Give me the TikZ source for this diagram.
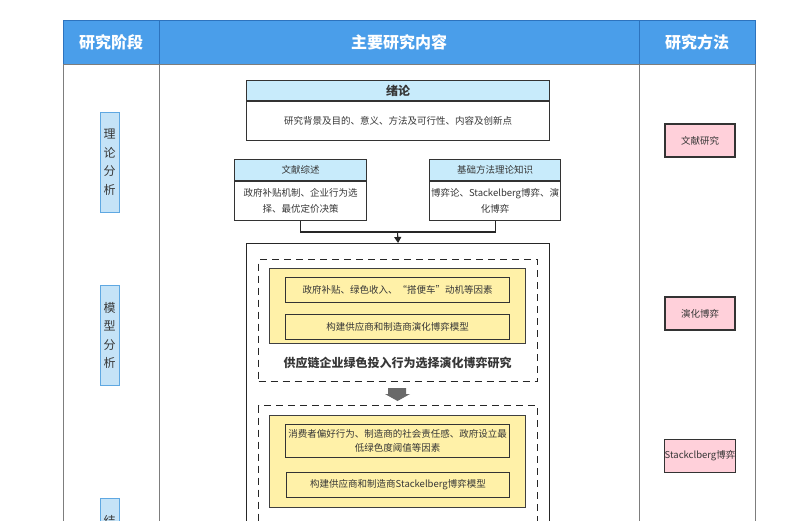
\documentclass[tikz,border=0pt]{standalone}
\usepackage{fontspec}
\setmainfont{Noto Sans CJK SC}
\usetikzlibrary{arrows.meta}
\definecolor{hdrblue}{RGB}{74,158,234}
\definecolor{hdrline}{RGB}{45,115,190}
\definecolor{stageblue}{RGB}{197,227,247}
\definecolor{stageedge}{RGB}{95,168,226}
\definecolor{titleblue}{RGB}{200,235,251}
\definecolor{paleyellow}{RGB}{255,241,168}
\definecolor{methodpink}{RGB}{255,208,218}
\definecolor{gridgray}{RGB}{125,125,125}
\definecolor{txtgray}{RGB}{55,55,55}
\definecolor{arrowgray}{RGB}{105,105,105}
\tikzset{
  hdrtext/.style={text=white, font=\fontsize{16}{18}\selectfont\bfseries},
  stagebox/.style={draw=stageedge, fill=stageblue, line width=1pt, minimum width=19pt, inner sep=0pt, align=center, text=txtgray, font=\fontsize{12}{18.5}\selectfont},
  titlebar/.style={draw=black!80, line width=1.1pt, fill=titleblue, anchor=north west, inner sep=0pt, text=txtgray},
  textbody/.style={draw=black!80, line width=1.1pt, fill=white, anchor=north, inner sep=0pt, align=center, text=txtgray, font=\fontsize{9.5}{16}\selectfont},
  dashbox/.style={draw=black!85, line width=1.3pt, dash pattern=on 7pt off 5pt, anchor=north west, inner sep=0pt},
  yellowbox/.style={draw=black!75, line width=1pt, fill=paleyellow, anchor=north west, inner sep=0pt},
  factorbox/.style={draw=black!80, line width=1pt, fill=paleyellow, anchor=north west, inner sep=0pt, align=center, text=txtgray, font=\fontsize{9.5}{14}\selectfont},
  methodbox/.style={draw=black!80, line width=1.1pt, fill=methodpink, minimum width=70pt, minimum height=33pt, inner sep=0pt, text=txtgray, font=\fontsize{9.5}{12}\selectfont}
}
\begin{document}
\begin{tikzpicture}[x=1pt, y=-1pt]
  \useasboundingbox (0,0) rectangle (800,520);
  \fill[white] (0,0) rectangle (800,520);
  \fill[hdrblue] (63,20) rectangle (755,64);
  \draw[gridgray] (63,64) -- (755,64);
  \foreach \x in {63,159,639,755} {
    \draw[hdrline] (\x,20) -- (\x,64);
    \draw[gridgray] (\x,64) -- (\x,530);
  }
  \draw[hdrline] (63,20) -- (755,20);
  \node[hdrtext] (stagehd) at (111,42) {研究阶段};
  \node[hdrtext] (contenthd) at (399,42) {主要研究内容};
  \node[hdrtext] (methodhd) at (697,42) {研究方法};

  \foreach \n/\y/\t in {theory/162/{理\\论\\分\\析}, model/335.5/{模\\型\\分\\析}, result/548.5/{结\\果\\分\\析}} {
    \node[stagebox, minimum height=100pt] (\n) at (109.5,\y) {\t};
  }

  \node[titlebar, minimum width=303pt, minimum height=20pt, font=\fontsize{12}{14}\selectfont\bfseries] (intro) at (246,80) {绪论};
  \node[textbody, minimum width=303pt, minimum height=39pt] (introbody) at (intro.south) {研究背景及目的、意义、方法及可行性、内容及创新点};

  \node[titlebar, minimum width=132pt, minimum height=21pt, font=\fontsize{9.5}{12}\selectfont] (lit) at (234,159) {文献综述};
  \node[textbody, minimum width=132pt, minimum height=39pt] (litbody) at (lit.south) {政府补贴机制、企业行为选\\择、最优定价决策};
  \node[titlebar, minimum width=131pt, minimum height=21pt, font=\fontsize{9.5}{12}\selectfont] (base) at (429,159) {基础方法理论知识};
  \node[textbody, minimum width=131pt, minimum height=39pt] (basebody) at (base.south) {博弈论、Stackelberg博弈、演\\化博弈};

  \node[draw=black!85, line width=1.2pt, minimum width=303pt, minimum height=300pt, anchor=north west, inner sep=0pt] (mainbox) at (246,243) {};
  \coordinate (merge) at (397.5,232);
  \draw[black!85, line width=1.1pt] (litbody.south) |- (merge) -| (basebody.south);
  \draw[black!85, line width=1.1pt, -{Triangle[length=6pt, width=7pt]}] (merge) -- (mainbox.north);

  \node[dashbox, minimum width=279pt, minimum height=122pt] (evo) at (258,259) {};
  \node[yellowbox, minimum width=256pt, minimum height=75pt] (evofactors) at (269,268) {};
  \node[factorbox, minimum width=224pt, minimum height=25pt] (evof1) at (285,277) {政府补贴、绿色收入、“搭便车”动机等因素};
  \node[factorbox, minimum width=224pt, minimum height=25pt] (evof2) at (285,314) {构建供应商和制造商演化博弈模型};
  \node[text=txtgray, font=\fontsize{12}{14}\selectfont\bfseries] (evolabel) at (397.5,363) {供应链企业绿色投入行为选择演化博弈研究};

  \fill[arrowgray] (388,388) -- (406,388) -- (406,394) -- (410,394) -- (397.5,401) -- (385,394) -- (388,394) -- cycle;

  \node[dashbox, minimum width=279pt, minimum height=150pt] (stack) at (258,405) {};
  \node[yellowbox, minimum width=256pt, minimum height=92pt] (stackfactors) at (269,415) {};
  \node[factorbox, minimum width=224pt, minimum height=33pt] (stackf1) at (285,424) {消费者偏好行为、制造商的社会责任感、政府设立最\\低绿色度阈值等因素};
  \node[factorbox, minimum width=223pt, minimum height=25pt] (stackf2) at (286,472) {构建供应商和制造商Stackelberg博弈模型};

  \foreach \n/\y/\t in {litmethod/140.5/文献研究, evomethod/313.5/演化博弈, stackmethod/456/Stackclberg博弈} {
    \node[methodbox] (\n) at (700,\y) {\t};
  }
\end{tikzpicture}
\end{document}
